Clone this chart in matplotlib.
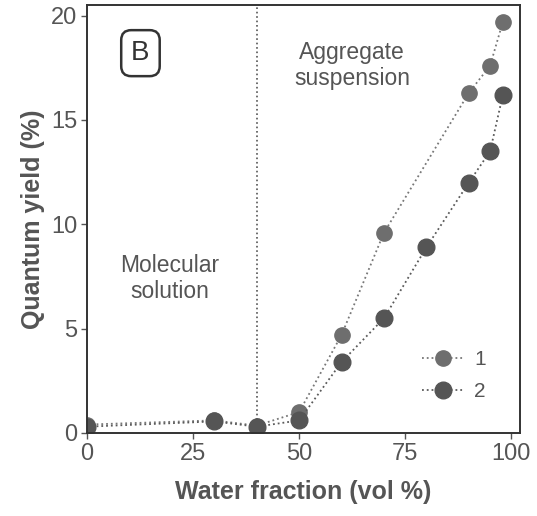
import matplotlib
matplotlib.use("Agg")
import matplotlib.pyplot as plt

plt.rcParams['font.family'] = ['Liberation Sans', 'DejaVu Sans']

# Data
water_1 = [0, 30, 40, 50, 60, 70, 90, 95, 98]
qy_1 = [0.4, 0.6, 0.35, 1.0, 4.7, 9.6, 16.3, 17.6, 19.7]
water_2 = [0, 30, 40, 50, 60, 70, 80, 90, 95, 98]
qy_2 = [0.3, 0.55, 0.3, 0.6, 3.4, 5.5, 8.9, 12.0, 13.5, 16.2]
series_labels = ['1', '2']
xticks = [0, 25, 50, 75, 100]
yticks = [0, 5, 10, 15, 20]

gray_text = '#555555'

fig = plt.figure(figsize=(5.37, 5.16), dpi=100)
ax = fig.add_axes([0.162, 0.161, 0.806, 0.829])

ax.plot(water_1, qy_1, linestyle=':', color='#777777', lw=1.3,
        marker='o', ms=11, mfc='#6e6e6e', mec='#6e6e6e', label=series_labels[0])
ax.plot(water_2, qy_2, linestyle=':', color='#5a5a5a', lw=1.3,
        marker='o', ms=12, mfc='#555555', mec='#555555', label=series_labels[1])

ax.axvline(40, color='#555555', lw=1.2, ls=':')

ax.set_xlim(0, 102)
ax.set_ylim(0, 20.5)
ax.set_xticks(xticks)
ax.set_yticks(yticks)
ax.tick_params(direction='out', length=4, width=1, colors=gray_text,
               labelsize=17, pad=3)
for s in ax.spines.values():
    s.set_color('#333333')
    s.set_linewidth(1.4)
    s.set_linestyle((0, (1, 1)))

ax.set_xlabel('Water fraction (vol %)', fontsize=18, fontweight='bold',
              color=gray_text, labelpad=11)
ax.set_ylabel('Quantum yield (%)', fontsize=18, fontweight='bold',
              color=gray_text, labelpad=4)

ax.text(12.6, 18.2, 'B', fontsize=20, color='#333333', ha='center', va='center',
        bbox=dict(boxstyle='round,pad=0.36', fc='white', ec='#333333', lw=1.8))
ax.text(62.5, 17.6, 'Aggregate\nsuspension', fontsize=16.5, color=gray_text,
        ha='center', va='center', linespacing=1.15)
ax.text(19.5, 7.4, 'Molecular\nsolution', fontsize=16.5, color=gray_text,
        ha='center', va='center', linespacing=1.15)

leg = ax.legend(loc='lower right', bbox_to_anchor=(0.965, 0.03), frameon=False,
                fontsize=15, handlelength=2.0, handletextpad=0.5,
                labelspacing=0.65, labelcolor=gray_text)

fig.savefig('out.png', dpi=100)
